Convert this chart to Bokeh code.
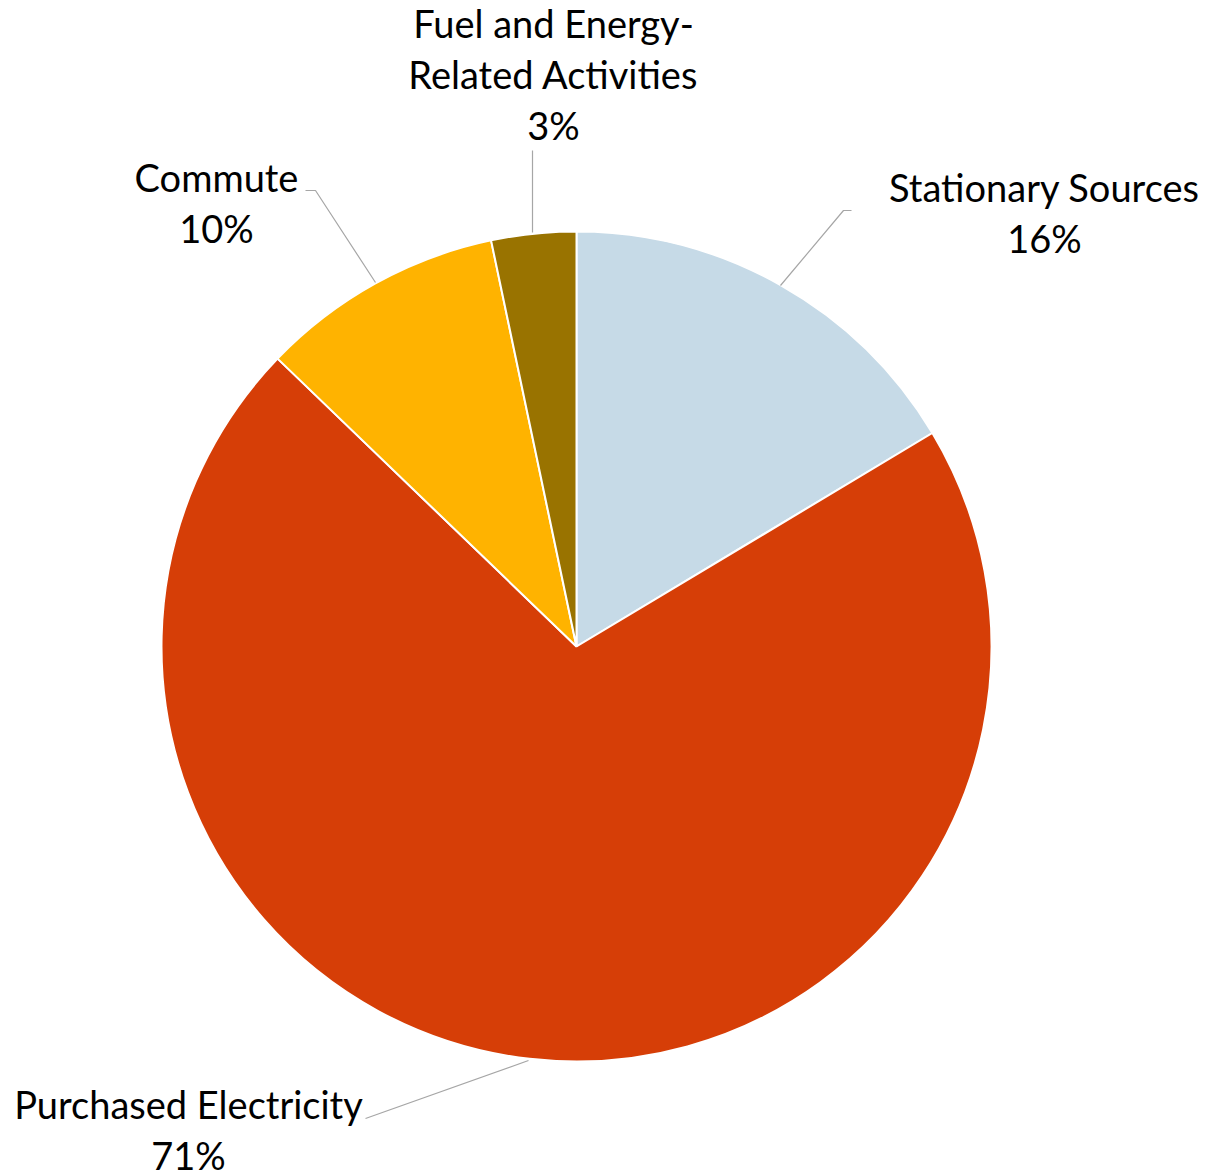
import math
from bokeh.plotting import figure
from bokeh.models import Range1d, ColumnDataSource
from bokeh.core.properties import value
from bokeh.embed import file_html
from bokeh.resources import INLINE

# ---- data ----
categories = ["Stationary Sources", "Purchased Electricity", "Commute",
              "Fuel and Energy-\nRelated Activities"]
values = [16.4, 70.8, 9.5, 3.3]
colors = ["#C6DAE7", "#D63E07", "#FFB300", "#997300"]

W, H = 1212, 1176
p = figure(width=W, height=H, output_backend="svg", toolbar_location=None,
           x_range=Range1d(0, W), y_range=Range1d(0, H), min_border=0)
p.axis.visible = False
p.grid.visible = False
p.outline_line_color = None
p.background_fill_color = "white"

cx, cy, r = 576, H - 646, 415
total = sum(values)
starts, ends = [], []
cum = 0.0
for v in values:
    starts.append(math.pi / 2 - 2 * math.pi * cum / total)
    cum += v
    ends.append(math.pi / 2 - 2 * math.pi * cum / total)

src = ColumnDataSource(dict(start=starts, end=ends, color=colors, cat=categories))
p.wedge(x=cx, y=cy, radius=r, start_angle="start", end_angle="end",
        direction="clock", fill_color="color", line_color="white",
        line_width=2, source=src)

# ---- leader lines (pixel layout, y from top) ----
leaders = [
    [(780, 285), (843, 210), (851, 210)],
    [(528, 1060), (365, 1118)],
    [(375, 282), (315, 190), (305, 190)],
    [(532, 232), (532, 150)],
]
for pts in leaders:
    p.line([a for a, b in pts], [H - b for a, b in pts], line_color="#A6A6A6", line_width=1.2)

# ---- labels ----
pcts = [f"{round(v / total * 100):.0f}%" for v in values]
label_pos = [(1044, 186), (188, 1103), (216, 176), (553, 73)]
tx, ty, tt = [], [], []
for cat, pct, (lx, ly) in zip(categories, pcts, label_pos):
    lines = cat.split("\n") + [pct]
    if len(lines) == 3:
        ly = ly - 51
    for i, ln in enumerate(lines):
        tx.append(lx)
        ty.append(H - (ly + 51 * i))
        tt.append(ln)
p.text(x=tx, y=ty, text=tt, text_align="center", text_baseline="middle",
       text_font=value("Lato"), text_font_size="38px", text_color="#000000")

open("out.html", "w").write(file_html(p, INLINE))
